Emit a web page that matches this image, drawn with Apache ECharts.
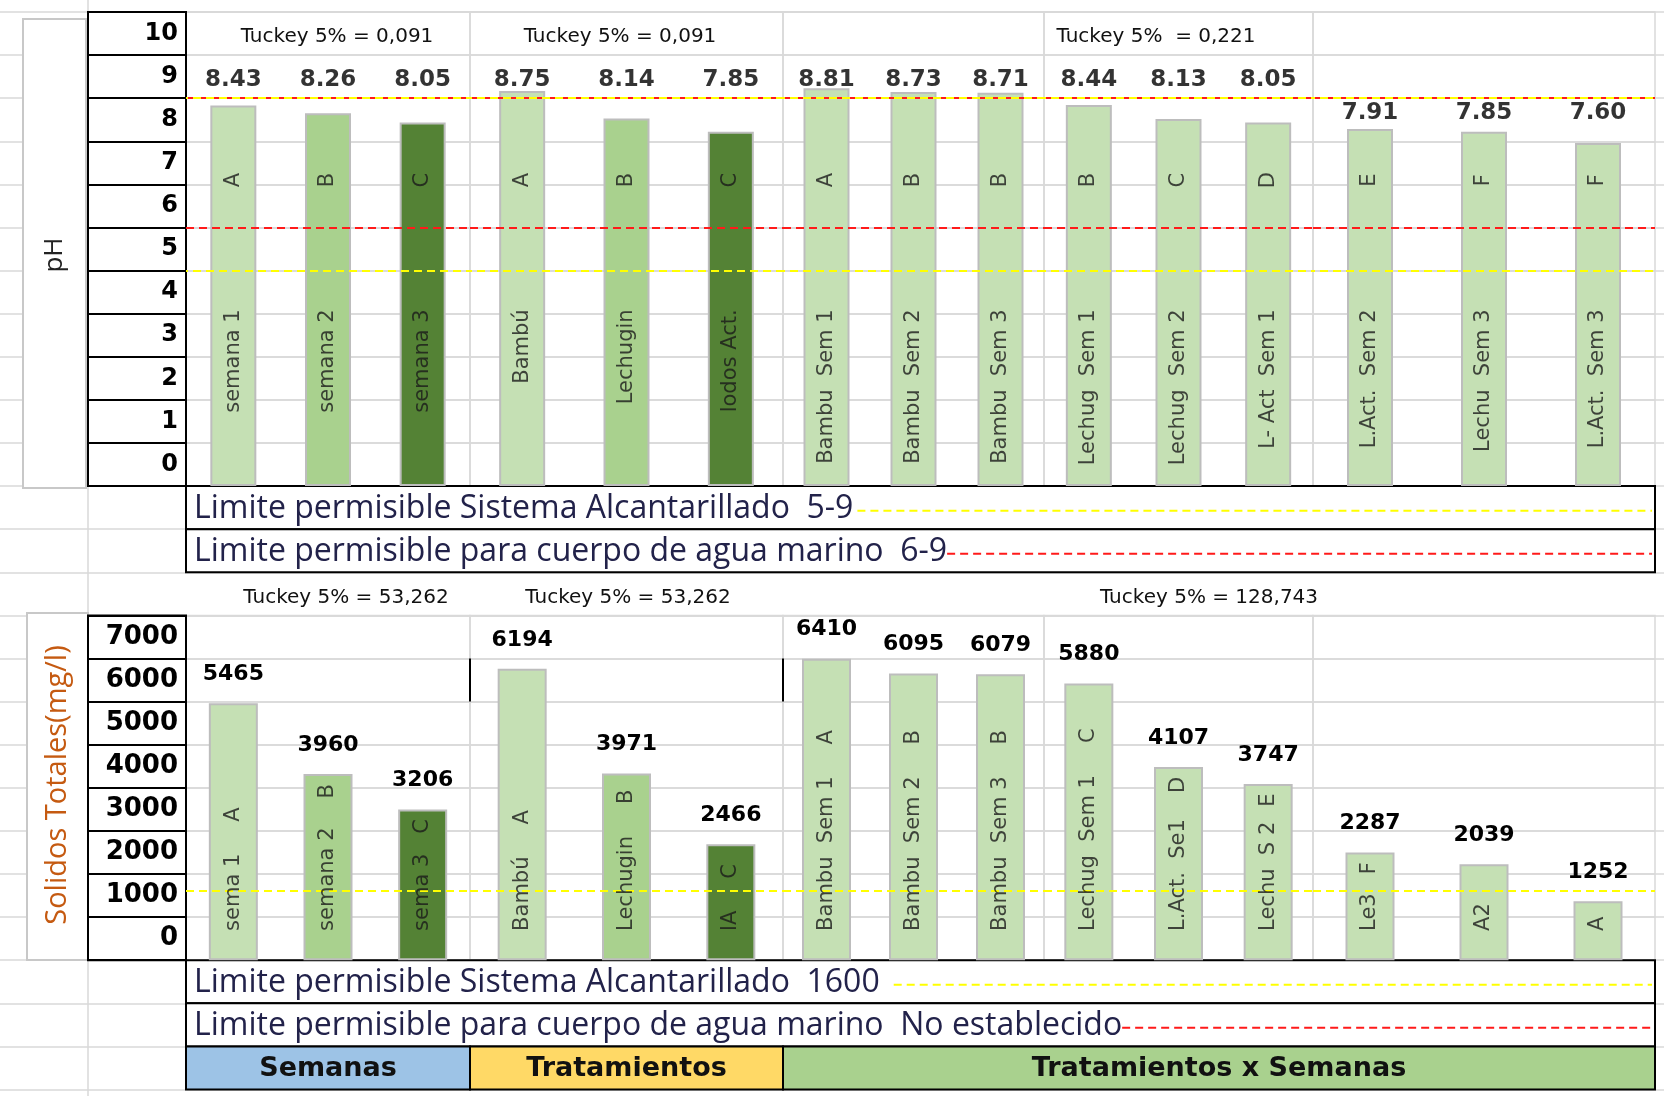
<!DOCTYPE html>
<html><head><meta charset="utf-8">
<script src="https://cdn.jsdelivr.net/npm/echarts@6/dist/echarts.min.js"></script>
<style>html,body{margin:0;padding:0;background:#fff}#c{width:1664px;height:1096px}</style>
</head><body><div id="c"></div><script>
// ---------------- DATA ----------------
const phCategories = ['semana 1','semana 2','semana 3','Bambú','Lechugin','lodos Act.','Bambu  Sem 1','Bambu  Sem 2','Bambu  Sem 3','Lechug  Sem 1','Lechug  Sem 2','L- Act  Sem 1','L.Act.  Sem 2','Lechu  Sem 3','L.Act.  Sem 3'];
const phValues = [8.43, 8.26, 8.05, 8.75, 8.14, 7.85, 8.81, 8.73, 8.71, 8.44, 8.13, 8.05, 7.91, 7.85, 7.60];
const phLetters = ['A','B','C','A','B','C','A','B','B','B','C','D','E','F','F'];
const phTickLabels = ['0','1','2','3','4','5','6','7','8','9','10'];
const phTukey = ['Tuckey 5% = 0,091','Tuckey 5% = 0,091','Tuckey 5%  = 0,221'];
const phSewerLimits = [5, 9];
const phSeaLimits = [6, 9];

const stCategories = ['sema 1','semana 2','sema 3','Bambú','Lechugin','lA','Bambu  Sem 1','Bambu  Sem 2','Bambu  Sem 3','Lechug  Sem 1','L.Act.  Se1','Lechu  S 2','Le3','A2',''];
const stValues = [5465, 3960, 3206, 6194, 3971, 2466, 6410, 6095, 6079, 5880, 4107, 3747, 2287, 2039, 1252];
const stLetters = ['A','B','C','A','B','C','A','B','B','C','D','E','F','','A'];
const stTickLabels = ['0','1000','2000','3000','4000','5000','6000','7000'];
const stTukey = ['Tuckey 5% = 53,262','Tuckey 5% = 53,262','Tuckey 5% = 128,743'];
const stSewerLimit = 1600;

const limitTexts = ['Limite permisible Sistema Alcantarillado  5-9','Limite permisible para cuerpo de agua marino  6-9','Limite permisible Sistema Alcantarillado  1600','Limite permisible para cuerpo de agua marino  No establecido'];
const headerTexts = ['Semanas','Tratamientos','Tratamientos x Semanas'];

// ---------------- LAYOUT ----------------
const Y0 = 12, RH = 43.1;
const rowY = k => Y0 + k * RH;
const cols = [186, 470, 783, 1044, 1313, 1655];
const LIGHT = '#c5e0b4', MID = '#a9d18e', DARK = '#548235';
const shade = i => (i < 6 ? [LIGHT, MID, DARK][i % 3] : LIGHT);
const YEL = '#ffff00', RED = '#ff1a1a';
const grayLine = '#d9d9d9';
const inFont = 'DejaVu Sans';
const ST_BAR_MAX = 7330;

const ctx = document.createElement('canvas').getContext('2d');
const tw = (t, f) => { ctx.font = f; return ctx.measureText(t).width; };

const grids = [], xAxes = [], yAxes = [], series = [], graphics = [];
function addGrid(g, x, y) {
  g.outerBoundsMode = 'none';
  grids.push(g);
  const gi = grids.length - 1;
  xAxes.push(Object.assign({ gridIndex: gi }, x));
  yAxes.push(Object.assign({ gridIndex: gi }, y));
  return { xi: xAxes.length - 1, yi: yAxes.length - 1, gi: gi };
}
function addY(gi, y) { yAxes.push(Object.assign({ gridIndex: gi }, y)); return yAxes.length - 1; }
const hiddenX = { type: 'value', show: false, min: 0, max: 1 };
const clear = { color: 'rgba(0,0,0,0)' };

// background spreadsheet rows
addGrid({ left: 0, right: 0, top: rowY(0), height: 25 * RH },
  hiddenX,
  { type: 'value', min: 0, max: 25, interval: 1, axisLabel: { show: false }, axisLine: { show: false }, axisTick: { show: false },
    splitLine: { show: true, lineStyle: { color: grayLine, width: 1.5 } } });

// --------- pH chart ---------
const phLabelRow = [9.42, 9.42, 9.42, 9.42, 8.65];
for (let c = 0; c < 5; c++) {
  const g = addGrid({ left: cols[c], top: rowY(0), width: cols[c + 1] - cols[c], height: 11 * RH, show: true, borderColor: grayLine, borderWidth: 1.5, backgroundColor: 'rgba(0,0,0,0)' },
    { type: 'category', data: phCategories.slice(3 * c, 3 * c + 3), show: false },
    { type: 'value', min: 0, max: 11, interval: 1, axisLabel: { show: false }, axisLine: { show: false }, axisTick: { show: false },
      splitLine: { show: true, lineStyle: { color: grayLine, width: 1.5 } } });
  // the chart's own bar scale (0 - 10.5 over the plotting height)
  const barY = addY(g.gi, { type: 'value', min: 0, max: 10.5, show: false });
  const base = 3 * c;
  series.push({
    type: 'bar', xAxisIndex: g.xi, yAxisIndex: barY, barWidth: 46, z: 2,
    data: phValues.slice(base, base + 3).map((v, j) => ({ value: v, itemStyle: { color: shade(base + j) } })),
    itemStyle: { borderColor: '#bdbdbd', borderWidth: 2 }
  });
  // value labels + permissible limit lines (table scale)
  series.push({
    type: 'scatter', xAxisIndex: g.xi, yAxisIndex: g.yi, symbolSize: 1, silent: true, z: 6,
    itemStyle: clear,
    data: [0, 1, 2].map(j => [j, phLabelRow[c]]),
    label: { show: true, position: 'inside', formatter: p => phValues[base + p.dataIndex].toFixed(2),
      fontFamily: 'DejaVu Sans', fontWeight: 'bold', fontSize: 23, color: '#000' },
    markLine: {
      silent: true, symbol: ['none', 'none'], label: { show: false }, animation: false,
      data: [
        ...phSeaLimits.map(v => ({ yAxis: v, lineStyle: { color: RED, type: [8, 5], width: 2 } })),
        ...phSewerLimits.map(v => ({ yAxis: v, lineStyle: { color: YEL, type: [8, 5], width: 2, dashOffset: 6 } }))
      ]
    }
  });
  // names inside bars
  series.push({
    type: 'scatter', xAxisIndex: g.xi, yAxisIndex: g.yi, symbolSize: 1, silent: true, z: 6,
    itemStyle: clear,
    data: [0, 1, 2].map(j => [j, 4.1]),
    label: { show: true, position: 'inside', rotate: 90, align: 'right', verticalAlign: 'middle',
      formatter: p => phCategories[base + p.dataIndex], fontFamily: inFont, fontSize: 21, color: '#1a1a1a' }
  });
  // letters
  series.push({
    type: 'scatter', xAxisIndex: g.xi, yAxisIndex: g.yi, symbolSize: 1, silent: true, z: 6,
    itemStyle: clear,
    data: [0, 1, 2].map(j => [j, 7.1]),
    label: { show: true, position: 'inside', rotate: 90, align: 'center', verticalAlign: 'middle',
      formatter: p => phLetters[base + p.dataIndex], fontFamily: inFont, fontSize: 21, color: '#1a1a1a' }
  });
}
// pH tick table
addGrid({ left: 88, top: rowY(0), width: 98, height: 11 * RH, show: true, borderColor: '#000', borderWidth: 2, backgroundColor: '#fff', z: 3 },
  hiddenX,
  { type: 'value', position: 'right', min: 0, max: 11, interval: 1, z: 3, axisLine: { show: false }, axisTick: { show: false },
    splitLine: { show: true, lineStyle: { color: '#000', width: 2 } },
    axisLabel: { inside: true, margin: 8, verticalAlign: 'bottom', lineHeight: RH, fontSize: 24, fontWeight: 'bold', fontFamily: 'DejaVu Sans', color: '#000',
      formatter: v => phTickLabels[Math.round(v)] || '' } });

// --------- Solidos chart ---------
const inFontStr = '21px "DejaVu Sans"';
function gapFor(i) {
  // room left inside the bar after the name and the letter (layout only)
  const barPx = stValues[i] / ST_BAR_MAX * 8 * RH;
  const room = barPx - 0.68 * RH - tw(stCategories[i], inFontStr) - tw(stLetters[i], inFontStr) - 10;
  return Math.max(6, Math.min(32, Math.round(room)));
}
for (let c = 0; c < 5; c++) {
  const g = addGrid({ left: cols[c], top: rowY(14), width: cols[c + 1] - cols[c], height: 8 * RH, show: true, borderColor: grayLine, borderWidth: 1.5, backgroundColor: 'rgba(0,0,0,0)' },
    { type: 'category', data: stCategories.slice(3 * c, 3 * c + 3), show: false },
    { type: 'value', min: 0, max: 8000, interval: 1000, axisLabel: { show: false }, axisLine: { show: false }, axisTick: { show: false },
      splitLine: { show: true, lineStyle: { color: grayLine, width: 1.5 } } });
  const barY = addY(g.gi, { type: 'value', min: 0, max: ST_BAR_MAX, show: false });
  const base = 3 * c;
  series.push({
    type: 'bar', xAxisIndex: g.xi, yAxisIndex: barY, barWidth: 49, z: 2,
    data: stValues.slice(base, base + 3).map((v, j) => ({ value: v, itemStyle: { color: shade(base + j) } })),
    itemStyle: { borderColor: '#bdbdbd', borderWidth: 2 },
    label: { show: true, position: 'top', distance: 18, fontFamily: 'DejaVu Sans', fontWeight: 'bold', fontSize: 22, color: '#000' }
  });
  const rich = {
    n: { fontFamily: inFont, fontSize: 21, color: '#1a1a1a' },
    l: { fontFamily: inFont, fontSize: 21, color: '#1a1a1a' }
  };
  [0, 1, 2].forEach(j => {
    rich['g' + (base + j)] = { fontFamily: inFont, fontSize: 21, color: '#1a1a1a', padding: [0, 0, 0, gapFor(base + j)] };
  });
  series.push({
    type: 'scatter', xAxisIndex: g.xi, yAxisIndex: g.yi, symbolSize: 1, silent: true, z: 6,
    itemStyle: clear,
    data: [0, 1, 2].map(j => [j, 680]),
    label: { show: true, position: 'inside', rotate: 90, align: 'left', verticalAlign: 'middle',
      formatter: p => {
        const i = base + p.dataIndex;
        const n = stCategories[i], l = stLetters[i];
        if (!n) return '{l|' + l + '}';
        if (!l) return '{n|' + n + '}';
        return '{n|' + n + '}{g' + i + '|' + l + '}';
      },
      rich: rich },
    markLine: {
      silent: true, symbol: ['none', 'none'], label: { show: false }, animation: false,
      data: [{ yAxis: stSewerLimit, lineStyle: { color: YEL, type: [8, 5], width: 2 } }]
    }
  });
}
addGrid({ left: 88, top: rowY(14), width: 98, height: 8 * RH, show: true, borderColor: '#000', borderWidth: 2, backgroundColor: '#fff', z: 3 },
  hiddenX,
  { type: 'value', position: 'right', min: 0, max: 8000, interval: 1000, z: 3, axisLine: { show: false }, axisTick: { show: false },
    splitLine: { show: true, lineStyle: { color: '#000', width: 2 } },
    axisLabel: { inside: true, margin: 8, verticalAlign: 'bottom', lineHeight: RH, fontSize: 26, fontWeight: 'bold', fontFamily: 'DejaVu Sans', color: '#000',
      formatter: v => stTickLabels[Math.round(v / 1000)] || '' } });

// ---------------- DECORATION (table cells, texts) ----------------
const limFont = '32px "Open Sans"';
const limColor = '#22224a';

graphics.push({ type: 'line', z: 1, shape: { x1: 88, y1: 0, x2: 88, y2: 1096 }, style: { stroke: grayLine, lineWidth: 1.5 } });
// title boxes
graphics.push({ type: 'rect', z: 1, shape: { x: 23, y: 19, width: 63, height: 469 }, style: { fill: '#fff', stroke: '#c8c8c8', lineWidth: 2 } });
graphics.push({ type: 'text', z: 4, x: 55, y: 255, rotation: Math.PI / 2, style: { text: 'pH', font: '26px "Open Sans"', fill: '#222', align: 'center', verticalAlign: 'middle' } });
graphics.push({ type: 'rect', z: 1, shape: { x: 27, y: 613, width: 61, height: 347 }, style: { fill: '#fff', stroke: '#c8c8c8', lineWidth: 2 } });
graphics.push({ type: 'text', z: 4, x: 58, y: 785, rotation: Math.PI / 2, style: { text: 'Solidos Totales(mg/l)', font: '29px "Open Sans"', fill: '#c55a11', align: 'center', verticalAlign: 'middle' } });

// limit boxes
const limRows = [11, 12, 22, 23];
const limDash = [[YEL, 4], [RED, 0], [YEL, 14], [RED, 0]];
limRows.forEach((r, k) => {
  const y = rowY(r);
  graphics.push({ type: 'rect', z: 1, shape: { x: cols[0], y: y, width: cols[5] - cols[0], height: RH }, style: { fill: '#fff', stroke: '#000', lineWidth: 2 } });
  graphics.push({ type: 'text', z: 4, x: 194, y: y + RH / 2 + 1, style: { text: limitTexts[k], font: limFont, fill: limColor, align: 'left', verticalAlign: 'middle' } });
  const x1 = 194 + tw(limitTexts[k], limFont) + limDash[k][1];
  graphics.push({ type: 'line', z: 4, shape: { x1: x1, y1: y + RH / 2 + 3, x2: cols[5] - 3, y2: y + RH / 2 + 3 }, style: { stroke: limDash[k][0], lineWidth: 2, lineDash: [8, 5] } });
});
// header row
const headFill = ['#9dc3e6', '#ffd966', '#a9d18e'];
const headSpan = [[cols[0], cols[1]], [cols[1], cols[2]], [cols[2], cols[5]]];
headSpan.forEach((s, k) => {
  graphics.push({ type: 'rect', z: 1, shape: { x: s[0], y: rowY(24), width: s[1] - s[0], height: RH }, style: { fill: headFill[k], stroke: '#000', lineWidth: 2 } });
  graphics.push({ type: 'text', z: 4, x: (s[0] + s[1]) / 2, y: rowY(24) + RH / 2 + 1, style: { text: headerTexts[k], font: 'bold 27px "DejaVu Sans"', fill: '#111', align: 'center', verticalAlign: 'middle' } });
});
// Tuckey texts
const phTukeyX = [337, 620, 1156];
const stTukeyX = [346, 628, 1209];
phTukey.forEach((t, k) => graphics.push({ type: 'text', z: 4, x: phTukeyX[k], y: 37, style: { text: t, font: '20px "DejaVu Sans"', fill: '#111', align: 'center', verticalAlign: 'middle' } }));
stTukey.forEach((t, k) => graphics.push({ type: 'text', z: 4, x: stTukeyX[k], y: 598, style: { text: t, font: '20px "DejaVu Sans"', fill: '#111', align: 'center', verticalAlign: 'middle' } }));
// black cell borders in solids chart
[cols[1], cols[2]].forEach(x => graphics.push({ type: 'line', z: 4, shape: { x1: x, y1: rowY(15), x2: x, y2: rowY(16) }, style: { stroke: '#000', lineWidth: 2 } }));

const chart = echarts.init(document.getElementById('c'), null, { renderer: 'canvas' });
chart.setOption({
  animation: false,
  backgroundColor: '#fff',
  grid: grids, xAxis: xAxes, yAxis: yAxes, series: series,
  graphic: { elements: graphics }
});
</script></body></html>
